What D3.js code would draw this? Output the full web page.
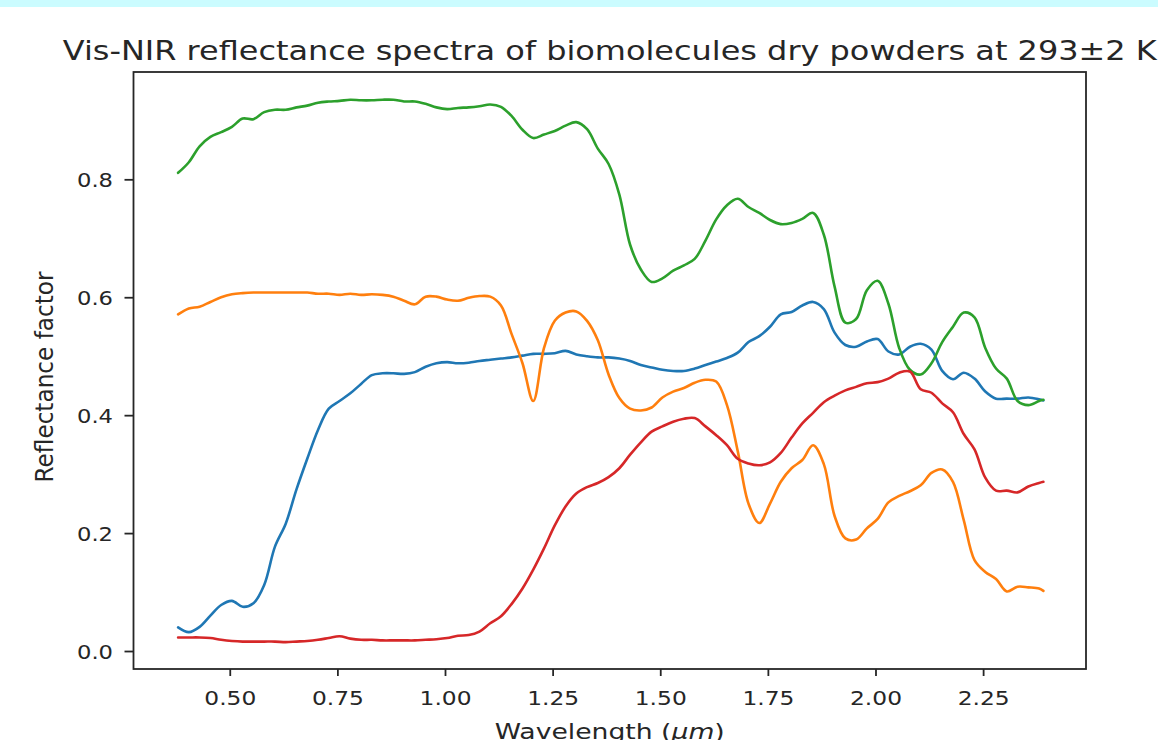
<!DOCTYPE html>
<html>
<head>
<meta charset="utf-8">
<script src="https://cdn.jsdelivr.net/npm/d3@7"></script>
<style>
  html, body { margin: 0; padding: 0; background: #fff; }
  svg { display: block; font-family: "DejaVu Sans", sans-serif; }
</style>
</head>
<body>
<div id="chart"></div>
<script>
// wavelength grid (um)
const wavelength = [0.38, 0.405, 0.43, 0.455, 0.48, 0.505, 0.53, 0.555, 0.58, 0.605, 0.63, 0.655, 0.68, 0.705, 0.73, 0.755, 0.78, 0.805, 0.83, 0.855, 0.88, 0.905, 0.93, 0.955, 0.98, 1.005, 1.03,
  1.055, 1.08, 1.105, 1.13, 1.155, 1.18, 1.205, 1.23, 1.255, 1.28, 1.305, 1.33, 1.355, 1.38, 1.405, 1.43, 1.455, 1.48, 1.505, 1.53, 1.555, 1.58, 1.605, 1.63, 1.655, 1.68, 1.705, 1.73, 1.755,
  1.78, 1.805, 1.83, 1.855, 1.88, 1.905, 1.93, 1.955, 1.98, 2.005, 2.03, 2.055, 2.08, 2.105, 2.13, 2.155, 2.18, 2.205, 2.23, 2.255, 2.28, 2.305, 2.33, 2.355, 2.38, 2.39];

// reflectance factor of each sample
const blue = [0.040, 0.032, 0.041, 0.060, 0.078, 0.085, 0.075, 0.081, 0.112, 0.177, 0.216, 0.274, 0.326, 0.375, 0.411, 0.424, 0.437, 0.453, 0.468, 0.471, 0.471, 0.470, 0.473, 0.482, 0.488, 0.490, 0.488,
  0.489, 0.492, 0.494, 0.496, 0.498, 0.501, 0.504, 0.504, 0.505, 0.509, 0.503, 0.500, 0.498, 0.498, 0.496, 0.492, 0.485, 0.481, 0.477, 0.475, 0.475, 0.479, 0.485, 0.491, 0.497, 0.506, 0.524, 0.534, 0.550,
  0.571, 0.575, 0.586, 0.592, 0.580, 0.540, 0.519, 0.516, 0.525, 0.529, 0.508, 0.503, 0.516, 0.521, 0.511, 0.475, 0.461, 0.472, 0.462, 0.440, 0.428, 0.428, 0.428, 0.430, 0.427, 0.425];

const orange = [0.571, 0.581, 0.584, 0.592, 0.600, 0.605, 0.607, 0.608, 0.608, 0.608, 0.608, 0.608, 0.608, 0.606, 0.606, 0.604, 0.606, 0.604, 0.605, 0.604, 0.601, 0.594, 0.588, 0.601, 0.601, 0.596, 0.594,
  0.599, 0.602, 0.601, 0.586, 0.537, 0.488, 0.424, 0.514, 0.560, 0.574, 0.576, 0.560, 0.527, 0.469, 0.429, 0.411, 0.408, 0.413, 0.430, 0.440, 0.446, 0.455, 0.460, 0.457, 0.417, 0.339, 0.250, 0.217, 0.250,
  0.287, 0.310, 0.324, 0.349, 0.317, 0.229, 0.191, 0.189, 0.208, 0.224, 0.252, 0.263, 0.271, 0.281, 0.302, 0.308, 0.287, 0.222, 0.154, 0.134, 0.122, 0.101, 0.109, 0.108, 0.106, 0.102];

const green = [0.811, 0.829, 0.856, 0.872, 0.880, 0.889, 0.903, 0.902, 0.914, 0.918, 0.918, 0.922, 0.925, 0.930, 0.932, 0.933, 0.935, 0.934, 0.934, 0.935, 0.935, 0.932, 0.932, 0.928, 0.922, 0.919, 0.921,
  0.922, 0.924, 0.927, 0.923, 0.907, 0.884, 0.870, 0.876, 0.882, 0.891, 0.897, 0.885, 0.852, 0.826, 0.774, 0.689, 0.647, 0.626, 0.632, 0.645, 0.654, 0.665, 0.696, 0.732, 0.756, 0.767, 0.753, 0.743, 0.731,
  0.724, 0.726, 0.733, 0.743, 0.706, 0.618, 0.557, 0.563, 0.612, 0.628, 0.589, 0.514, 0.477, 0.469, 0.488, 0.524, 0.550, 0.574, 0.566, 0.514, 0.479, 0.462, 0.424, 0.417, 0.424, 0.426];

const red = [0.023, 0.023, 0.023, 0.022, 0.019, 0.017, 0.016, 0.016, 0.016, 0.016, 0.015, 0.016, 0.017, 0.019, 0.022, 0.025, 0.021, 0.019, 0.019, 0.018, 0.018, 0.018, 0.018, 0.019, 0.020, 0.022, 0.026,
  0.027, 0.033, 0.047, 0.059, 0.080, 0.106, 0.138, 0.174, 0.213, 0.245, 0.267, 0.278, 0.285, 0.295, 0.310, 0.333, 0.354, 0.372, 0.381, 0.389, 0.394, 0.395, 0.381, 0.366, 0.349, 0.326, 0.318, 0.315, 0.320,
  0.336, 0.362, 0.386, 0.404, 0.422, 0.433, 0.442, 0.448, 0.454, 0.456, 0.462, 0.472, 0.474, 0.444, 0.438, 0.420, 0.405, 0.368, 0.342, 0.294, 0.272, 0.272, 0.269, 0.279, 0.285, 0.287];

const xTicks = [0.50, 0.75, 1.00, 1.25, 1.50, 1.75, 2.00, 2.25];
const yTicks = [0.0, 0.2, 0.4, 0.6, 0.8];

const series = [
  {values: blue, color: "#1f77b4"},
  {values: orange, color: "#ff7f0e"},
  {values: green, color: "#2ca02c"},
  {values: red, color: "#d62728"}
];

const W = 1158, H = 740;
const plotL = 133.5, plotR = 1086, plotT = 72, plotB = 669;
const ink = "#262626";

const svg = d3.select("#chart").append("svg")
  .attr("width", W)
  .attr("height", H);

// light strip at the very top of the screenshot
svg.append("rect")
  .attr("x", 0).attr("y", 0)
  .attr("width", W).attr("height", 7)
  .attr("fill", "#cbfcff");

const x = d3.scaleLinear().domain([0.2764, 2.489]).range([plotL, plotR]);
const y = d3.scaleLinear().domain([-0.0305, 0.982]).range([plotB, plotT]);

// curves
const line = d3.line()
  .x((d, i) => x(wavelength[i]))
  .y(d => y(d))
  .curve(d3.curveCatmullRom.alpha(0.5));

svg.selectAll("path.spec")
  .data(series)
  .enter()
  .append("path")
  .attr("class", "spec")
  .attr("d", d => line(d.values))
  .attr("fill", "none")
  .attr("stroke", d => d.color)
  .attr("stroke-width", 2.6)
  .attr("stroke-linejoin", "round")
  .attr("stroke-linecap", "round");

// axes
const xAxis = d3.axisBottom(x).tickValues(xTicks).tickFormat(d3.format(".2f")).tickSize(7).tickSizeOuter(0);
const gx = svg.append("g")
  .attr("transform", "translate(0," + plotB + ")")
  .call(xAxis);
gx.select(".domain").remove();
gx.selectAll("line").attr("stroke", ink).attr("stroke-width", 1.8);
gx.selectAll("text")
  .attr("y", 36).attr("dy", 0)
  .attr("fill", ink)
  .attr("font-size", 20)
  .attr("font-family", "DejaVu Sans")
  .attr("textLength", 52)
  .attr("lengthAdjust", "spacingAndGlyphs");

const yAxis = d3.axisLeft(y).tickValues(yTicks).tickFormat(d3.format(".1f")).tickSize(9).tickSizeOuter(0);
const gy = svg.append("g")
  .attr("transform", "translate(" + plotL + ",0)")
  .call(yAxis);
gy.select(".domain").remove();
gy.selectAll("line").attr("stroke", ink).attr("stroke-width", 1.8);
gy.selectAll("text")
  .attr("x", -20.5).attr("dy", "0.36em")
  .attr("fill", ink)
  .attr("font-size", 19.5)
  .attr("font-family", "DejaVu Sans")
  .attr("textLength", 36)
  .attr("lengthAdjust", "spacingAndGlyphs");

// frame
svg.append("rect")
  .attr("x", plotL).attr("y", plotT)
  .attr("width", plotR - plotL).attr("height", plotB - plotT)
  .attr("fill", "none")
  .attr("stroke", ink)
  .attr("stroke-width", 1.8);

// title
svg.append("text")
  .attr("x", (plotL + plotR) / 2)
  .attr("y", 60)
  .attr("text-anchor", "middle")
  .attr("fill", ink)
  .attr("font-size", 26.5)
  .attr("textLength", 1094)
  .attr("lengthAdjust", "spacingAndGlyphs")
  .text("Vis-NIR reflectance spectra of biomolecules dry powders at 293±2 K");

// x label
const xl = svg.append("text")
  .attr("x", (plotL + plotR) / 2)
  .attr("y", 739)
  .attr("text-anchor", "middle")
  .attr("fill", ink)
  .attr("font-size", 21)
  .attr("textLength", 230)
  .attr("lengthAdjust", "spacingAndGlyphs");
xl.append("tspan").text("Wavelength (");
xl.append("tspan").attr("font-style", "italic").text("μm");
xl.append("tspan").text(")");

// y label
svg.append("text")
  .attr("transform", "translate(53,377) scale(1.22,1) rotate(-90)")
  .attr("text-anchor", "middle")
  .attr("fill", ink)
  .attr("font-size", 21)
  .attr("textLength", 211)
  .attr("lengthAdjust", "spacingAndGlyphs")
  .text("Reflectance factor");
</script>
</body>
</html>
